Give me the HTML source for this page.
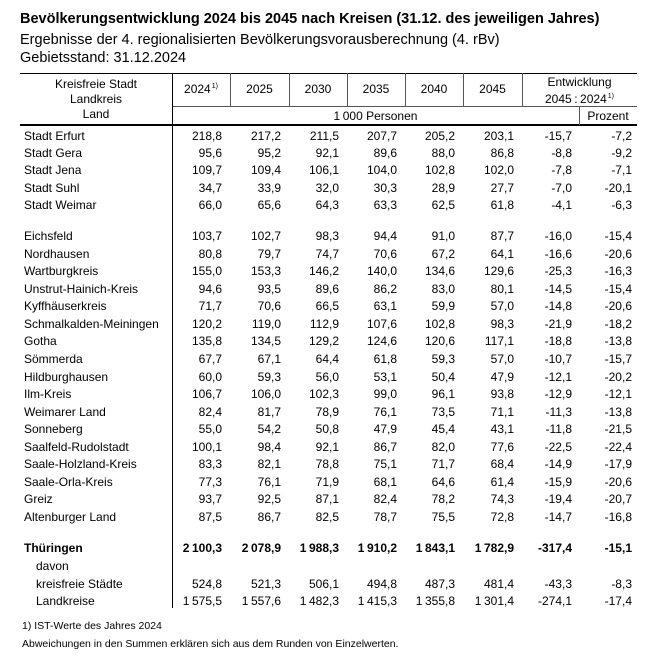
<!DOCTYPE html>
<html>
<head>
<meta charset="utf-8">
<style>
  html,body{margin:0;padding:0;background:#fff;}
  body{width:661px;height:660px;position:relative;overflow:hidden;font-family:"Liberation Sans",Arial,sans-serif;color:#000;}
  .t{position:absolute;left:20px;font-size:14.5px;white-space:nowrap;line-height:20px;}
  .h{position:absolute;font-size:12px;white-space:nowrap;line-height:16px;text-align:center;}
  .ln{position:absolute;background:#000;}
  .dl{position:absolute;background:#555;}
  .r{position:absolute;left:0;width:661px;height:18px;line-height:18px;font-size:12px;white-space:nowrap;}
  .r span{position:absolute;top:0;}
  .n{left:24px;}
  .in{left:36px;}
  .c1{right:439px}.c2{right:380px}.c3{right:322px}.c4{right:264px}
  .c5{right:206px}.c6{right:147px}.c7{right:89px}.c8{right:29px}
  .b{font-weight:bold;}
  i{display:inline-block;width:2.5px;}
  sup{font-size:7px;vertical-align:top;position:relative;top:-2px;margin-left:1px;}
  .f{position:absolute;left:22px;font-size:10.5px;white-space:nowrap;line-height:14px;}
</style>
</head>
<body>
<div class="t" style="top:9px;font-weight:bold;">Bevölkerungsentwicklung 2024 bis 2045 nach Kreisen (31.12. des jeweiligen Jahres)</div>
<div class="t" style="top:30px;">Ergebnisse der 4. regionalisierten Bevölkerungsvorausberechnung (4. rBv)</div>
<div class="t" style="top:48px;">Gebietsstand: 31.12.2024</div>

<!-- lines -->
<div class="ln" style="left:20px;top:72.5px;width:617px;height:1.4px;"></div>
<div class="ln" style="left:20px;top:124px;width:617px;height:2px;"></div>
<div class="dl" style="left:172px;top:105.5px;width:465px;height:1px;"></div>
<div class="ln" style="left:171.5px;top:73px;width:1.2px;height:535px;"></div>
<div class="dl" style="left:230px;top:73px;width:1px;height:33px;"></div>
<div class="dl" style="left:289px;top:73px;width:1px;height:33px;"></div>
<div class="dl" style="left:347px;top:73px;width:1px;height:33px;"></div>
<div class="dl" style="left:405px;top:73px;width:1px;height:33px;"></div>
<div class="dl" style="left:463px;top:73px;width:1px;height:33px;"></div>
<div class="dl" style="left:522px;top:73px;width:1px;height:33px;"></div>
<div class="dl" style="left:579px;top:106px;width:1px;height:19px;"></div>

<!-- header text -->
<div class="h" style="left:20px;width:152px;top:76px;">Kreisfreie Stadt</div>
<div class="h" style="left:20px;width:152px;top:91px;">Landkreis</div>
<div class="h" style="left:20px;width:152px;top:105.5px;">Land</div>
<div class="h" style="left:172px;width:58px;top:81px;">2024<sup>1)</sup></div>
<div class="h" style="left:230px;width:59px;top:81px;">2025</div>
<div class="h" style="left:289px;width:58px;top:81px;">2030</div>
<div class="h" style="left:347px;width:58px;top:81px;">2035</div>
<div class="h" style="left:405px;width:58px;top:81px;">2040</div>
<div class="h" style="left:463px;width:59px;top:81px;">2045</div>
<div class="h" style="left:522px;width:115px;top:74px;">Entwicklung</div>
<div class="h" style="left:522px;width:115px;top:91px;">2045<i></i>:<i></i>2024<sup>1)</sup></div>
<div class="h" style="left:172px;width:407px;top:108px;">1<i></i>000 Personen</div>
<div class="h" style="left:579px;width:58px;top:108px;">Prozent</div>

<!-- rows -->
<div class="r" style="top:126.5px"><span class="n">Stadt Erfurt</span><span class="c1">218,8</span><span class="c2">217,2</span><span class="c3">211,5</span><span class="c4">207,7</span><span class="c5">205,2</span><span class="c6">203,1</span><span class="c7">-15,7</span><span class="c8">-7,2</span></div>
<div class="r" style="top:144px"><span class="n">Stadt Gera</span><span class="c1">95,6</span><span class="c2">95,2</span><span class="c3">92,1</span><span class="c4">89,6</span><span class="c5">88,0</span><span class="c6">86,8</span><span class="c7">-8,8</span><span class="c8">-9,2</span></div>
<div class="r" style="top:161.4px"><span class="n">Stadt Jena</span><span class="c1">109,7</span><span class="c2">109,4</span><span class="c3">106,1</span><span class="c4">104,0</span><span class="c5">102,8</span><span class="c6">102,0</span><span class="c7">-7,8</span><span class="c8">-7,1</span></div>
<div class="r" style="top:178.9px"><span class="n">Stadt Suhl</span><span class="c1">34,7</span><span class="c2">33,9</span><span class="c3">32,0</span><span class="c4">30,3</span><span class="c5">28,9</span><span class="c6">27,7</span><span class="c7">-7,0</span><span class="c8">-20,1</span></div>
<div class="r" style="top:196.3px"><span class="n">Stadt Weimar</span><span class="c1">66,0</span><span class="c2">65,6</span><span class="c3">64,3</span><span class="c4">63,3</span><span class="c5">62,5</span><span class="c6">61,8</span><span class="c7">-4,1</span><span class="c8">-6,3</span></div>

<div class="r" style="top:227px"><span class="n">Eichsfeld</span><span class="c1">103,7</span><span class="c2">102,7</span><span class="c3">98,3</span><span class="c4">94,4</span><span class="c5">91,0</span><span class="c6">87,7</span><span class="c7">-16,0</span><span class="c8">-15,4</span></div>
<div class="r" style="top:244.6px"><span class="n">Nordhausen</span><span class="c1">80,8</span><span class="c2">79,7</span><span class="c3">74,7</span><span class="c4">70,6</span><span class="c5">67,2</span><span class="c6">64,1</span><span class="c7">-16,6</span><span class="c8">-20,6</span></div>
<div class="r" style="top:262.1px"><span class="n">Wartburgkreis</span><span class="c1">155,0</span><span class="c2">153,3</span><span class="c3">146,2</span><span class="c4">140,0</span><span class="c5">134,6</span><span class="c6">129,6</span><span class="c7">-25,3</span><span class="c8">-16,3</span></div>
<div class="r" style="top:279.7px"><span class="n">Unstrut-Hainich-Kreis</span><span class="c1">94,6</span><span class="c2">93,5</span><span class="c3">89,6</span><span class="c4">86,2</span><span class="c5">83,0</span><span class="c6">80,1</span><span class="c7">-14,5</span><span class="c8">-15,4</span></div>
<div class="r" style="top:297.2px"><span class="n">Kyffhäuserkreis</span><span class="c1">71,7</span><span class="c2">70,6</span><span class="c3">66,5</span><span class="c4">63,1</span><span class="c5">59,9</span><span class="c6">57,0</span><span class="c7">-14,8</span><span class="c8">-20,6</span></div>
<div class="r" style="top:314.8px"><span class="n">Schmalkalden-Meiningen</span><span class="c1">120,2</span><span class="c2">119,0</span><span class="c3">112,9</span><span class="c4">107,6</span><span class="c5">102,8</span><span class="c6">98,3</span><span class="c7">-21,9</span><span class="c8">-18,2</span></div>
<div class="r" style="top:332.4px"><span class="n">Gotha</span><span class="c1">135,8</span><span class="c2">134,5</span><span class="c3">129,2</span><span class="c4">124,6</span><span class="c5">120,6</span><span class="c6">117,1</span><span class="c7">-18,8</span><span class="c8">-13,8</span></div>
<div class="r" style="top:349.9px"><span class="n">Sömmerda</span><span class="c1">67,7</span><span class="c2">67,1</span><span class="c3">64,4</span><span class="c4">61,8</span><span class="c5">59,3</span><span class="c6">57,0</span><span class="c7">-10,7</span><span class="c8">-15,7</span></div>
<div class="r" style="top:367.5px"><span class="n">Hildburghausen</span><span class="c1">60,0</span><span class="c2">59,3</span><span class="c3">56,0</span><span class="c4">53,1</span><span class="c5">50,4</span><span class="c6">47,9</span><span class="c7">-12,1</span><span class="c8">-20,2</span></div>
<div class="r" style="top:385px"><span class="n">Ilm-Kreis</span><span class="c1">106,7</span><span class="c2">106,0</span><span class="c3">102,3</span><span class="c4">99,0</span><span class="c5">96,1</span><span class="c6">93,8</span><span class="c7">-12,9</span><span class="c8">-12,1</span></div>
<div class="r" style="top:402.6px"><span class="n">Weimarer Land</span><span class="c1">82,4</span><span class="c2">81,7</span><span class="c3">78,9</span><span class="c4">76,1</span><span class="c5">73,5</span><span class="c6">71,1</span><span class="c7">-11,3</span><span class="c8">-13,8</span></div>
<div class="r" style="top:420.2px"><span class="n">Sonneberg</span><span class="c1">55,0</span><span class="c2">54,2</span><span class="c3">50,8</span><span class="c4">47,9</span><span class="c5">45,4</span><span class="c6">43,1</span><span class="c7">-11,8</span><span class="c8">-21,5</span></div>
<div class="r" style="top:437.7px"><span class="n">Saalfeld-Rudolstadt</span><span class="c1">100,1</span><span class="c2">98,4</span><span class="c3">92,1</span><span class="c4">86,7</span><span class="c5">82,0</span><span class="c6">77,6</span><span class="c7">-22,5</span><span class="c8">-22,4</span></div>
<div class="r" style="top:455.3px"><span class="n">Saale-Holzland-Kreis</span><span class="c1">83,3</span><span class="c2">82,1</span><span class="c3">78,8</span><span class="c4">75,1</span><span class="c5">71,7</span><span class="c6">68,4</span><span class="c7">-14,9</span><span class="c8">-17,9</span></div>
<div class="r" style="top:472.8px"><span class="n">Saale-Orla-Kreis</span><span class="c1">77,3</span><span class="c2">76,1</span><span class="c3">71,9</span><span class="c4">68,1</span><span class="c5">64,6</span><span class="c6">61,4</span><span class="c7">-15,9</span><span class="c8">-20,6</span></div>
<div class="r" style="top:490.4px"><span class="n">Greiz</span><span class="c1">93,7</span><span class="c2">92,5</span><span class="c3">87,1</span><span class="c4">82,4</span><span class="c5">78,2</span><span class="c6">74,3</span><span class="c7">-19,4</span><span class="c8">-20,7</span></div>
<div class="r" style="top:508px"><span class="n">Altenburger Land</span><span class="c1">87,5</span><span class="c2">86,7</span><span class="c3">82,5</span><span class="c4">78,7</span><span class="c5">75,5</span><span class="c6">72,8</span><span class="c7">-14,7</span><span class="c8">-16,8</span></div>

<div class="r b" style="top:539.3px"><span class="n">Thüringen</span><span class="c1">2<i></i>100,3</span><span class="c2">2<i></i>078,9</span><span class="c3">1<i></i>988,3</span><span class="c4">1<i></i>910,2</span><span class="c5">1<i></i>843,1</span><span class="c6">1<i></i>782,9</span><span class="c7">-317,4</span><span class="c8">-15,1</span></div>
<div class="r" style="top:557px"><span class="in">davon</span></div>
<div class="r" style="top:574.5px"><span class="in">kreisfreie Städte</span><span class="c1">524,8</span><span class="c2">521,3</span><span class="c3">506,1</span><span class="c4">494,8</span><span class="c5">487,3</span><span class="c6">481,4</span><span class="c7">-43,3</span><span class="c8">-8,3</span></div>
<div class="r" style="top:592px"><span class="in">Landkreise</span><span class="c1">1<i></i>575,5</span><span class="c2">1<i></i>557,6</span><span class="c3">1<i></i>482,3</span><span class="c4">1<i></i>415,3</span><span class="c5">1<i></i>355,8</span><span class="c6">1<i></i>301,4</span><span class="c7">-274,1</span><span class="c8">-17,4</span></div>

<div class="f" style="top:619px;">1) IST-Werte des Jahres 2024</div>
<div class="f" style="top:637px;">Abweichungen in den Summen erklären sich aus dem Runden von Einzelwerten.</div>
</body>
</html>
